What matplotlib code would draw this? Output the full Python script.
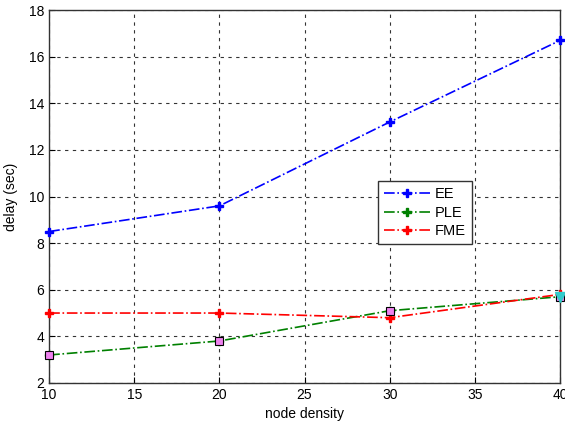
import numpy as np
import matplotlib
matplotlib.use("Agg")
import matplotlib.pyplot as plt

plt.rcParams['font.family'] = ['Liberation Sans', 'DejaVu Sans']

# data
node_density = [10, 20, 30, 40]
ee = [8.5, 9.6, 13.2, 16.7]
ple = [3.2, 3.8, 5.1, 5.7]
fme = [5.0, 5.0, 4.8, 5.8]

fig = plt.figure(figsize=(5.65, 4.25), dpi=100)
ax = fig.add_axes([0.087, 0.099, 0.904, 0.877])

ax.plot(node_density, ee, color='blue', linestyle='-.', lw=1.2,
        marker='P', ms=6, label='EE', zorder=3, clip_on=False)
ax.plot(node_density, ple, color='green', linestyle='-.', lw=1.2,
        marker='P', ms=6, label='PLE', zorder=3, clip_on=False)
ax.plot(node_density, fme, color='red', linestyle='-.', lw=1.2,
        marker='P', ms=6, label='FME', zorder=3, clip_on=False)

# extra overlapping markers visible on the PLE points
ax.plot(node_density, ple, linestyle='none', marker='s', ms=5.5,
        mfc='#ee82ee', mec='black', mew=0.8, zorder=4, clip_on=False)
ax.plot(node_density[-1:], ple[-1:], linestyle='none', marker='v', ms=7,
        mfc='#33cccc', mec='#33cccc', zorder=5, clip_on=False)

ax.set_xlim(10, 40)
ax.set_ylim(2, 18)
ax.set_xticks(np.arange(10, 41, 5))
ax.set_yticks(np.arange(2, 19, 2))
ax.tick_params(direction='in', labelsize=10, length=4)
ax.grid(True, color='black', linestyle=(0, (3, 4)), linewidth=0.8, alpha=0.8)
for s in ax.spines.values():
    s.set_linewidth(1.0)
    s.set_color('#333333')

ax.set_xlabel('node density', fontsize=10, labelpad=4)
ax.set_ylabel('delay (sec)', fontsize=10, labelpad=8)

leg = ax.legend(loc='lower left', bbox_to_anchor=(0.644, 0.373), fontsize=10.5,
                fancybox=False, framealpha=1, edgecolor='#333333',
                handlelength=3.2, borderpad=0.4, labelspacing=0.3,
                handletextpad=0.3, borderaxespad=0)

fig.savefig('out.png', dpi=100)
